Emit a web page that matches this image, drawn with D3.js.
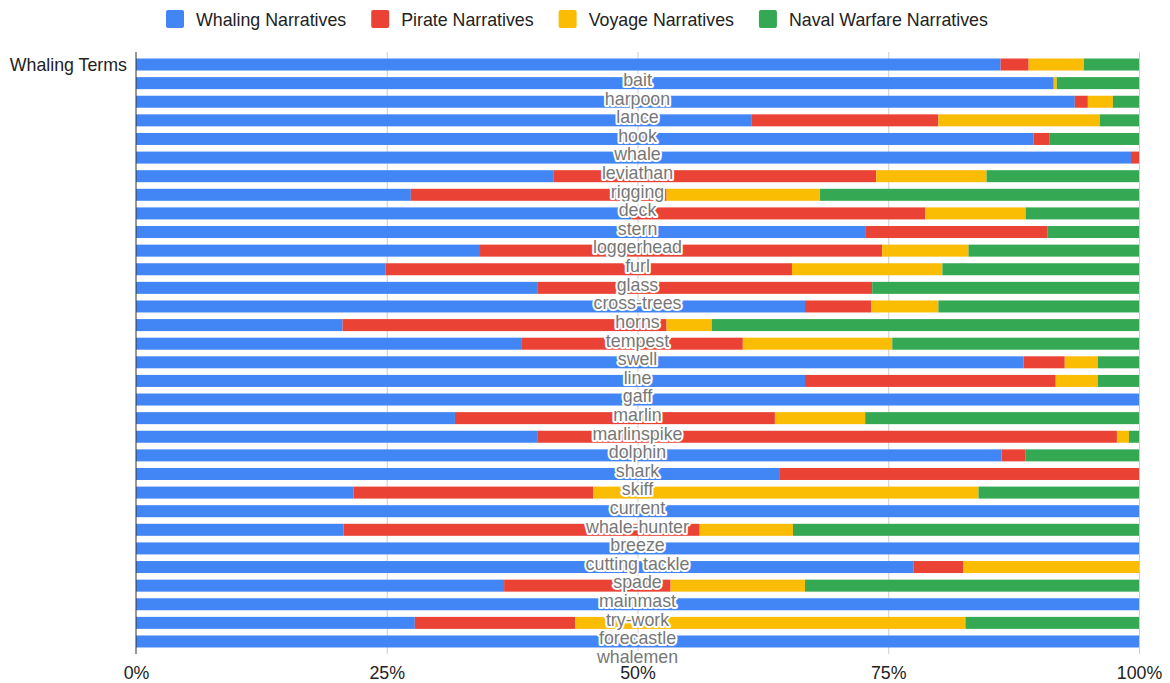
<!DOCTYPE html>
<html>
<head>
<meta charset="utf-8">
<script src="https://cdn.jsdelivr.net/npm/d3@7"></script>
<style>
  body { margin: 0; background: #fff; }
  text { font-family: "Liberation Sans", Arial, sans-serif; }
</style>
</head>
<body>
<svg id="chart" width="1170" height="683"></svg>
<script>
// Share of each whaling term's usage across four narrative genres (percent).
const axisTitle = "Whaling Terms";
const terms = ["bait", "harpoon", "lance", "hook", "whale", "leviathan", "rigging", "deck",
  "stern", "loggerhead", "furl", "glass", "cross-trees", "horns", "tempest", "swell",
  "line", "gaff", "marlin", "marlinspike", "dolphin", "shark", "skiff", "current",
  "whale-hunter", "breeze", "cutting tackle", "spade", "mainmast", "try-work",
  "forecastle", "whalemen"];
const seriesNames = ["Whaling Narratives", "Pirate Narratives", "Voyage Narratives", "Naval Warfare Narratives"];
const whaling = [86.2, 91.5, 93.6, 61.4, 89.5, 99.2, 41.6, 27.4, 49.4, 72.7, 34.3, 24.9, 40.0, 66.7, 20.6, 38.4,
  88.5, 66.7, 100, 31.8, 40.0, 86.3, 64.2, 21.7, 100, 20.7, 100, 77.5, 36.7, 100, 27.8, 100];
const pirate = [2.8, 0, 1.3, 18.6, 1.6, 0.8, 32.2, 25.5, 29.3, 18.2, 40.1, 40.5, 33.4, 6.6, 32.3, 22.1,
  4.1, 25.0, 0, 31.9, 57.8, 2.4, 35.8, 23.9, 0, 35.5, 0, 5.0, 16.6, 0, 16.0, 0];
const voyage = [5.5, 0.3, 2.5, 16.1, 0, 0, 11.0, 15.3, 10.0, 0, 8.6, 15.0, 0, 6.7, 4.5, 14.9,
  3.3, 4.2, 0, 9.0, 1.2, 0, 0, 38.4, 0, 9.3, 0, 17.5, 13.4, 0, 38.9, 0];
const naval = [5.5, 8.2, 2.6, 3.9, 8.9, 0, 15.2, 31.8, 11.3, 9.1, 17.0, 19.6, 26.6, 20.0, 42.6, 24.6,
  4.1, 4.1, 0, 27.3, 1.0, 11.3, 0, 16.0, 0, 34.5, 0, 0, 33.3, 0, 17.3, 0];
const tickValues = [0, 0.25, 0.5, 0.75, 1];
const tickLabels = ["0%", "25%", "50%", "75%", "100%"];

const colors = ["#4285F4", "#EA4335", "#FBBC04", "#34A853"];
const keys = ["whaling", "pirate", "voyage", "naval"];
const rows = terms.map((t, i) => ({ term: t, whaling: whaling[i], pirate: pirate[i], voyage: voyage[i], naval: naval[i] }));
const series = d3.stack().keys(keys).offset(d3.stackOffsetExpand)(rows);

const svg = d3.select("#chart");
const plotTop = 52, plotBottom = 654;
const x = d3.scaleLinear().domain([0, 1]).range([136, 1139]);
const y = d3.scaleBand().domain(terms).range([plotTop, plotBottom]).paddingInner(0.355).paddingOuter(0.35);
const fs = 17.8;

// gridlines
const grid = svg.append("g").attr("transform", `translate(0,${plotTop})`)
  .call(d3.axisBottom(x).tickValues(tickValues.slice(1)).tickSize(plotBottom - plotTop).tickFormat(""));
grid.select(".domain").remove();
grid.selectAll("line").attr("stroke", "#cccccc");

// stacked bars
svg.append("g").selectAll("g").data(series).join("g")
  .attr("fill", (d, i) => colors[i])
  .selectAll("rect").data(d => d.map(v => ({ v, term: v.data.term }))).join("rect")
  .attr("x", d => x(d.v[0]))
  .attr("y", d => y(d.term))
  .attr("width", d => Math.max(0, x(d.v[1]) - x(d.v[0])))
  .attr("height", y.bandwidth());

// baseline axis at 0%
svg.append("line").attr("x1", x(0)).attr("x2", x(0)).attr("y1", plotTop).attr("y2", plotBottom)
  .attr("stroke", "#333").attr("stroke-width", 1);

// x tick labels
const xa = svg.append("g").attr("transform", `translate(0,${plotBottom})`)
  .call(d3.axisBottom(x).tickValues(tickValues).tickSize(0).tickPadding(12)
    .tickFormat((d, i) => tickLabels[i]));
xa.select(".domain").remove();
xa.selectAll("text").attr("font-size", fs).attr("fill", "#222")
  .style("font-family", '"Liberation Sans", Arial, sans-serif');

// category title beside first bar
svg.append("text").attr("x", 127).attr("y", y(terms[0]) + y.bandwidth() / 2)
  .attr("text-anchor", "end").attr("dominant-baseline", "central")
  .attr("font-size", fs).attr("fill", "#222").text(axisTitle);

// term labels along the centre line
svg.append("g").selectAll("text").data(terms).join("text")
  .attr("x", x(0.5))
  .attr("y", d => y(d) + y.bandwidth() / 2 + y.step() * 0.83)
  .attr("text-anchor", "middle").attr("dominant-baseline", "central")
  .attr("font-size", fs).attr("fill", "#777")
  .attr("stroke", "#fff").attr("stroke-width", 4).attr("stroke-linejoin", "round")
  .attr("paint-order", "stroke")
  .text(d => d);

// legend
const legend = svg.append("g");
let lx = 166;
seriesNames.forEach((name, i) => {
  legend.append("rect").attr("x", lx).attr("y", 10).attr("width", 18).attr("height", 18)
    .attr("rx", 2).attr("fill", colors[i]);
  const t = legend.append("text").attr("x", lx + 30).attr("y", 19.5)
    .attr("dominant-baseline", "central").attr("font-size", fs).attr("fill", "#222").text(name);
  lx += 30 + t.node().getComputedTextLength() + 25;
});
</script>
</body>
</html>
